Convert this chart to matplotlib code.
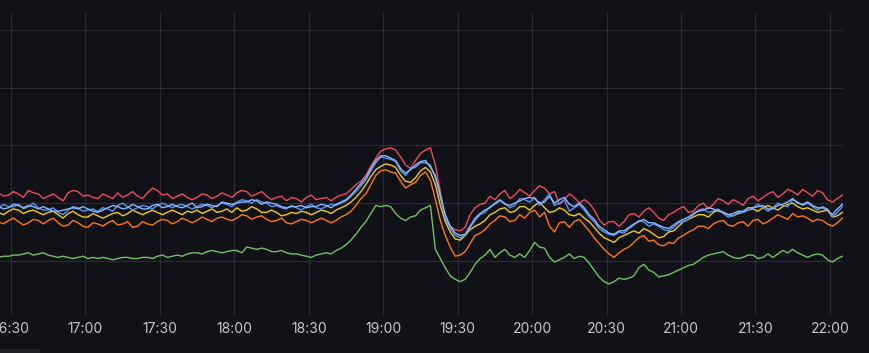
import matplotlib
matplotlib.use("Agg")
import matplotlib.pyplot as plt
import matplotlib.dates as mdates
import pandas as pd
from matplotlib.patches import Rectangle

# muestras cada 2 minutos, 16:25 -> 22:05
times = pd.date_range("2024-01-01 16:25", periods=171, freq="2min")

red = [109, 106, 107, 110, 108, 105, 111, 109, 108, 104,
       106, 108, 105, 102, 109, 111, 110, 106, 107, 105,
       104, 108, 106, 104, 109, 105, 107, 110, 106, 104,
       109, 113, 111, 107, 108, 104, 106, 108, 105, 103,
       105, 108, 107, 104, 106, 109, 107, 105, 109, 111,
       110, 106, 108, 110, 106, 103, 105, 106, 102, 105,
       104, 101, 105, 107, 103, 104, 105, 102, 105, 107,
       108, 112, 116, 119, 124, 132, 139, 145, 147, 148,
       146, 140, 133, 130, 137, 143, 146, 148, 133, 110,
       87, 80, 77, 76, 79, 90, 96, 99, 100, 106,
       103, 108, 111, 104, 107, 112, 109, 106, 111, 115,
       113, 108, 110, 99, 103, 108, 105, 100, 103, 100,
       94, 86, 81, 84, 84, 80, 84, 90, 91, 88,
       93, 96, 92, 87, 85, 90, 92, 95, 97, 92,
       93, 98, 100, 95, 99, 104, 102, 99, 103, 101,
       98, 104, 106, 102, 105, 108, 110, 105, 108, 112,
       110, 107, 112, 109, 106, 111, 109, 103, 101, 104,
       107]

blue = [96, 99, 97, 97, 99, 95, 97, 100, 96, 94,
        94, 96, 92, 90, 94, 97, 96, 93, 94, 95,
        93, 96, 95, 93, 98, 100, 97, 94, 96, 98,
        97, 95, 98, 100, 98, 96, 98, 99, 97, 95,
        97, 99, 98, 96, 98, 100, 99, 97, 101, 103,
        102, 100, 103, 101, 100, 97, 98, 96, 95, 98,
        96, 94, 97, 99, 96, 95, 97, 99, 98, 100,
        102, 106, 110, 115, 120, 128, 135, 140, 139, 138,
        136, 128, 124, 130, 131, 135, 135, 133, 122, 105,
        87, 78, 72, 70, 72, 79, 85, 90, 92, 97,
        99, 102, 100, 96, 98, 104, 103, 101, 105, 98,
        103, 108, 98, 100, 103, 93, 96, 99, 94, 88,
        84, 78, 75, 73, 72, 75, 74, 78, 81, 85,
        84, 80, 82, 80, 77, 76, 79, 83, 84, 86,
        90, 94, 95, 92, 93, 95, 91, 88, 89, 92,
        92, 94, 96, 99, 96, 93, 96, 100, 98, 97,
        103, 101, 98, 100, 97, 94, 97, 95, 88, 92,
        97]

light_blue = [97, 95, 96, 99, 98, 96, 98, 97, 95, 97,
              95, 93, 93, 94, 95, 96, 95, 97, 95, 93,
              92, 94, 96, 98, 97, 95, 96, 99, 97, 95,
              95, 98, 99, 96, 97, 99, 97, 96, 98, 100,
              96, 97, 99, 98, 97, 101, 100, 99, 100, 101,
              101, 103, 102, 99, 101, 100, 99, 97, 96, 97,
              97, 98, 96, 97, 97, 99, 98, 96, 99, 101,
              103, 107, 112, 117, 122, 130, 137, 141, 141, 139,
              137, 130, 126, 129, 133, 136, 137, 131, 124, 107,
              90, 80, 74, 72, 73, 80, 87, 91, 94, 96,
              100, 103, 99, 98, 100, 102, 104, 105, 104, 100,
              101, 106, 100, 103, 105, 99, 97, 100, 96, 90,
              86, 80, 77, 74, 73, 76, 76, 79, 82, 84,
              86, 83, 83, 81, 79, 78, 81, 84, 86, 88,
              91, 93, 94, 96, 95, 93, 92, 90, 91, 93,
              93, 96, 96, 97, 98, 95, 95, 98, 99, 101,
              104, 100, 99, 101, 98, 96, 96, 94, 90, 95,
              99]

yellow = [92, 90, 93, 95, 94, 91, 93, 94, 92, 90,
          92, 93, 90, 87, 91, 93, 90, 88, 88, 91,
          89, 87, 89, 91, 92, 89, 91, 94, 92, 90,
          92, 94, 92, 90, 92, 94, 92, 90, 93, 92,
          94, 91, 93, 95, 92, 93, 95, 92, 96, 93,
          94, 97, 95, 92, 92, 94, 92, 89, 90, 92,
          91, 93, 92, 90, 92, 94, 93, 91, 94, 96,
          98, 101, 105, 110, 116, 123, 129, 132, 134, 133,
          131, 124, 119, 118, 122, 128, 131, 127, 116, 98,
          84, 75, 69, 68, 72, 77, 80, 82, 85, 90,
          92, 95, 96, 92, 93, 97, 97, 94, 98, 101,
          96, 92, 93, 96, 94, 90, 89, 91, 87, 84,
          79, 74, 70, 68, 66, 70, 72, 74, 76, 74,
          78, 76, 73, 70, 71, 75, 76, 80, 84, 86,
          88, 90, 90, 88, 92, 94, 92, 90, 89, 91,
          92, 94, 95, 93, 96, 98, 96, 94, 97, 99,
          100, 97, 95, 96, 94, 92, 93, 94, 88, 89,
          92]

orange = [84, 82, 85, 87, 84, 81, 83, 86, 85, 82,
          85, 87, 83, 80, 81, 85, 83, 80, 79, 83,
          82, 80, 83, 85, 81, 82, 84, 79, 80, 84,
          82, 81, 84, 86, 85, 82, 84, 87, 85, 83,
          85, 88, 86, 84, 87, 88, 86, 85, 87, 90,
          89, 86, 88, 89, 86, 84, 85, 87, 83, 82,
          84, 86, 85, 83, 85, 87, 85, 83, 85, 88,
          90, 93, 98, 104, 108, 116, 124, 128, 129, 127,
          126, 119, 113, 116, 118, 124, 127, 120, 103, 85,
          72, 62, 54, 55, 58, 65, 72, 74, 77, 82,
          85, 89, 88, 84, 85, 90, 87, 92, 94, 88,
          92, 80, 75, 83, 84, 79, 84, 86, 81, 76,
          70, 65, 60, 56, 53, 57, 60, 62, 66, 70,
          72, 67, 68, 64, 63, 66, 65, 70, 72, 75,
          77, 80, 80, 78, 82, 84, 85, 81, 80, 83,
          84, 80, 85, 86, 82, 84, 87, 90, 88, 86,
          91, 88, 89, 87, 84, 86, 85, 82, 80, 83,
          87]

green = [53, 54, 54, 55, 55, 56, 57, 55, 56, 57,
         55, 54, 53, 54, 53, 52, 53, 54, 52, 53,
         52, 53, 52, 51, 52, 53, 53, 52, 52, 53,
         53, 52, 54, 55, 53, 54, 55, 54, 56, 57,
         57, 56, 58, 59, 58, 57, 58, 59, 59, 57,
         62, 61, 60, 61, 60, 58, 58, 59, 57, 56,
         56, 55, 54, 53, 55, 56, 57, 56, 59, 61,
         64, 68, 73, 79, 84, 91, 98, 97, 98, 97,
         91, 87, 85, 88, 89, 94, 96, 98, 60, 52,
         44, 37, 34, 32, 34, 40, 47, 52, 55, 60,
         53, 57, 60, 55, 53, 56, 53, 59, 66, 62,
         61, 53, 49, 51, 53, 56, 52, 54, 53, 48,
         42, 36, 32, 30, 32, 35, 34, 35, 37, 44,
         47, 42, 40, 36, 37, 38, 40, 42, 44, 46,
         47, 50, 53, 55, 56, 57, 58, 55, 53, 52,
         53, 55, 55, 52, 53, 56, 53, 56, 59, 57,
         60, 57, 55, 53, 55, 56, 55, 51, 49, 52,
         54]

series = [
    (green, "#73BF69"),
    (yellow, "#F2CC0C"),
    (orange, "#FF780A"),
    (red, "#F2495C"),
    (blue, "#5794F2"),
    (light_blue, "#8AB8FF"),
]

bg = "#111217"
fig = plt.figure(figsize=(8.69, 3.53), dpi=100, facecolor=bg)
ax = fig.add_axes([0.0, 0.108, 0.970, 0.855])
ax.set_facecolor(bg)

for vals, col in series:
    ax.plot(times, vals, color=col, linewidth=1.0)

ax.set_xlim(pd.Timestamp("2024-01-01 16:25:34"), pd.Timestamp("2024-01-01 22:05:14"))
ax.set_ylim(3.2, 264.7)
ax.set_yticks([50, 100, 150, 200, 250])
ax.yaxis.set_ticklabels([])
ax.tick_params(axis="y", length=0)

ax.xaxis.set_major_locator(mdates.MinuteLocator(byminute=[0, 30]))
ax.xaxis.set_major_formatter(mdates.DateFormatter("%H:%M"))
ax.tick_params(axis="x", length=0, pad=5, colors="#c7c8d0", labelsize=10)
for lab in ax.get_xticklabels():
    lab.set_family(["Inter", "DejaVu Sans"])

ax.grid(True, color="#2c2d33", linewidth=0.8)
ax.set_axisbelow(True)
for s in ax.spines.values():
    s.set_visible(False)

# barrita gris abajo a la izquierda
fig.patches.append(Rectangle((0, 0), 40 / 869, 4 / 353, transform=fig.transFigure,
                             facecolor="#202226", edgecolor="none"))

fig.savefig("out.png", dpi=100, facecolor=bg)
